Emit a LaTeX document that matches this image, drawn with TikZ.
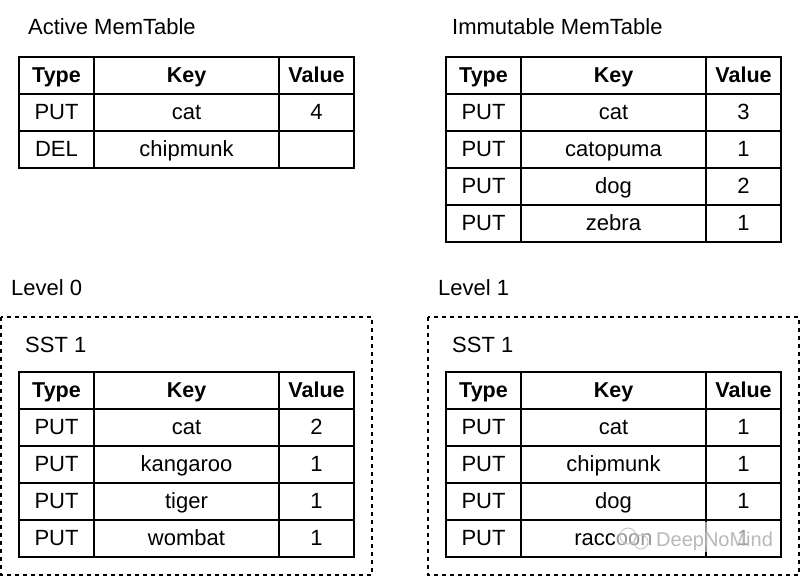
\documentclass[tikz,border=0pt]{standalone}
\usepackage{fontspec}
\setmainfont{Liberation Sans}
\newcommand\mktable[4]{%
  \pgfmathsetmacro\tbot{#3+37*(#4+1)}%
  \draw[tbl] (#2,#3) rectangle (#2+335,\tbot);
  \draw[tbl] (#2+75,#3) -- (#2+75,\tbot);
  \draw[tbl] (#2+260,#3) -- (#2+260,\tbot);
  \foreach \j in {1,...,#4} \draw[tbl] (#2,#3+37*\j) -- (#2+335,#3+37*\j);
  \node[hdr] (#1-ht) at (#2+37.5,#3+25.5) {Type};
  \node[hdr] (#1-hk) at (#2+167.5,#3+25.5) {Key};
  \node[hdr] (#1-hv) at (#2+297.5,#3+25.5) {Value};
}
\newcommand\mkrows[4]{%
  \foreach \t/\k/\v [count=\i] in {#4} {
    \node[cell] (#1-\i-t) at (#2+37.5,#3+37*\i+25.5) {\t};
    \node[cell] (#1-\i-k) at (#2+167.5,#3+37*\i+25.5) {\k};
    \node[cell] (#1-\i-v) at (#2+297.5,#3+37*\i+25.5) {\v};
  }
}
\begin{document}
\begin{tikzpicture}[x=1pt,y=-1pt,
  tbl/.style={line width=1.6pt, black},
  hdr/.style={anchor=base, inner sep=0pt, font=\fontsize{21.5}{25}\selectfont\bfseries},
  cell/.style={anchor=base, inner sep=0pt, font=\fontsize{22}{26}\selectfont},
  ttl/.style={anchor=base west, inner sep=0pt, font=\fontsize{22}{26}\selectfont},
  lvlbox/.style={line width=1.5pt, dash pattern=on 4pt off 4pt},
  wmark/.style={anchor=base west, inner sep=0pt, text=gray!55, font=\fontsize{20}{24}\selectfont}]
\useasboundingbox (0,0) rectangle (800,577);
\fill[white] (0,0) rectangle (800,577);

% Active MemTable
\node[ttl] (act) at (28,35) {Active MemTable};
\mktable{A}{19}{57}{2}
\mkrows{A}{19}{57}{PUT/cat/4, DEL/chipmunk/}

% Immutable MemTable
\node[ttl] (imm) at (452,35) {Immutable MemTable};
\mktable{I}{446}{57}{4}
\mkrows{I}{446}{57}{PUT/cat/3, PUT/catopuma/1, PUT/dog/2, PUT/zebra/1}

% Level 0
\node[ttl] (l0) at (11,295) {Level 0};
\draw[lvlbox] (1,317) rectangle (372,575);
\node[ttl] (s0) at (25,352) {SST 1};
\mktable{L}{19}{372}{4}
\mkrows{L}{19}{372}{PUT/cat/2, PUT/kangaroo/1, PUT/tiger/1, PUT/wombat/1}

% Level 1
\node[ttl] (l1) at (438,295) {Level 1};
\draw[lvlbox] (428,317) rectangle (799,575);
\node[ttl] (s1) at (452,352) {SST 1};
\mktable{R}{446}{372}{4}
\mkrows{R}{446}{372}{PUT/cat/1, PUT/chipmunk/1, PUT/dog/1, PUT/raccoon/1}

% watermark
\fill[white, opacity=0.6] (616,522) rectangle (776,552);
\draw[gray!50, line width=0.8pt] (628,536) circle (8);
\draw[gray!50, line width=0.8pt] (641,542) circle (7);
\node[wmark] (wm) at (656,546) {DeepNoMind};
\end{tikzpicture}
\end{document}
